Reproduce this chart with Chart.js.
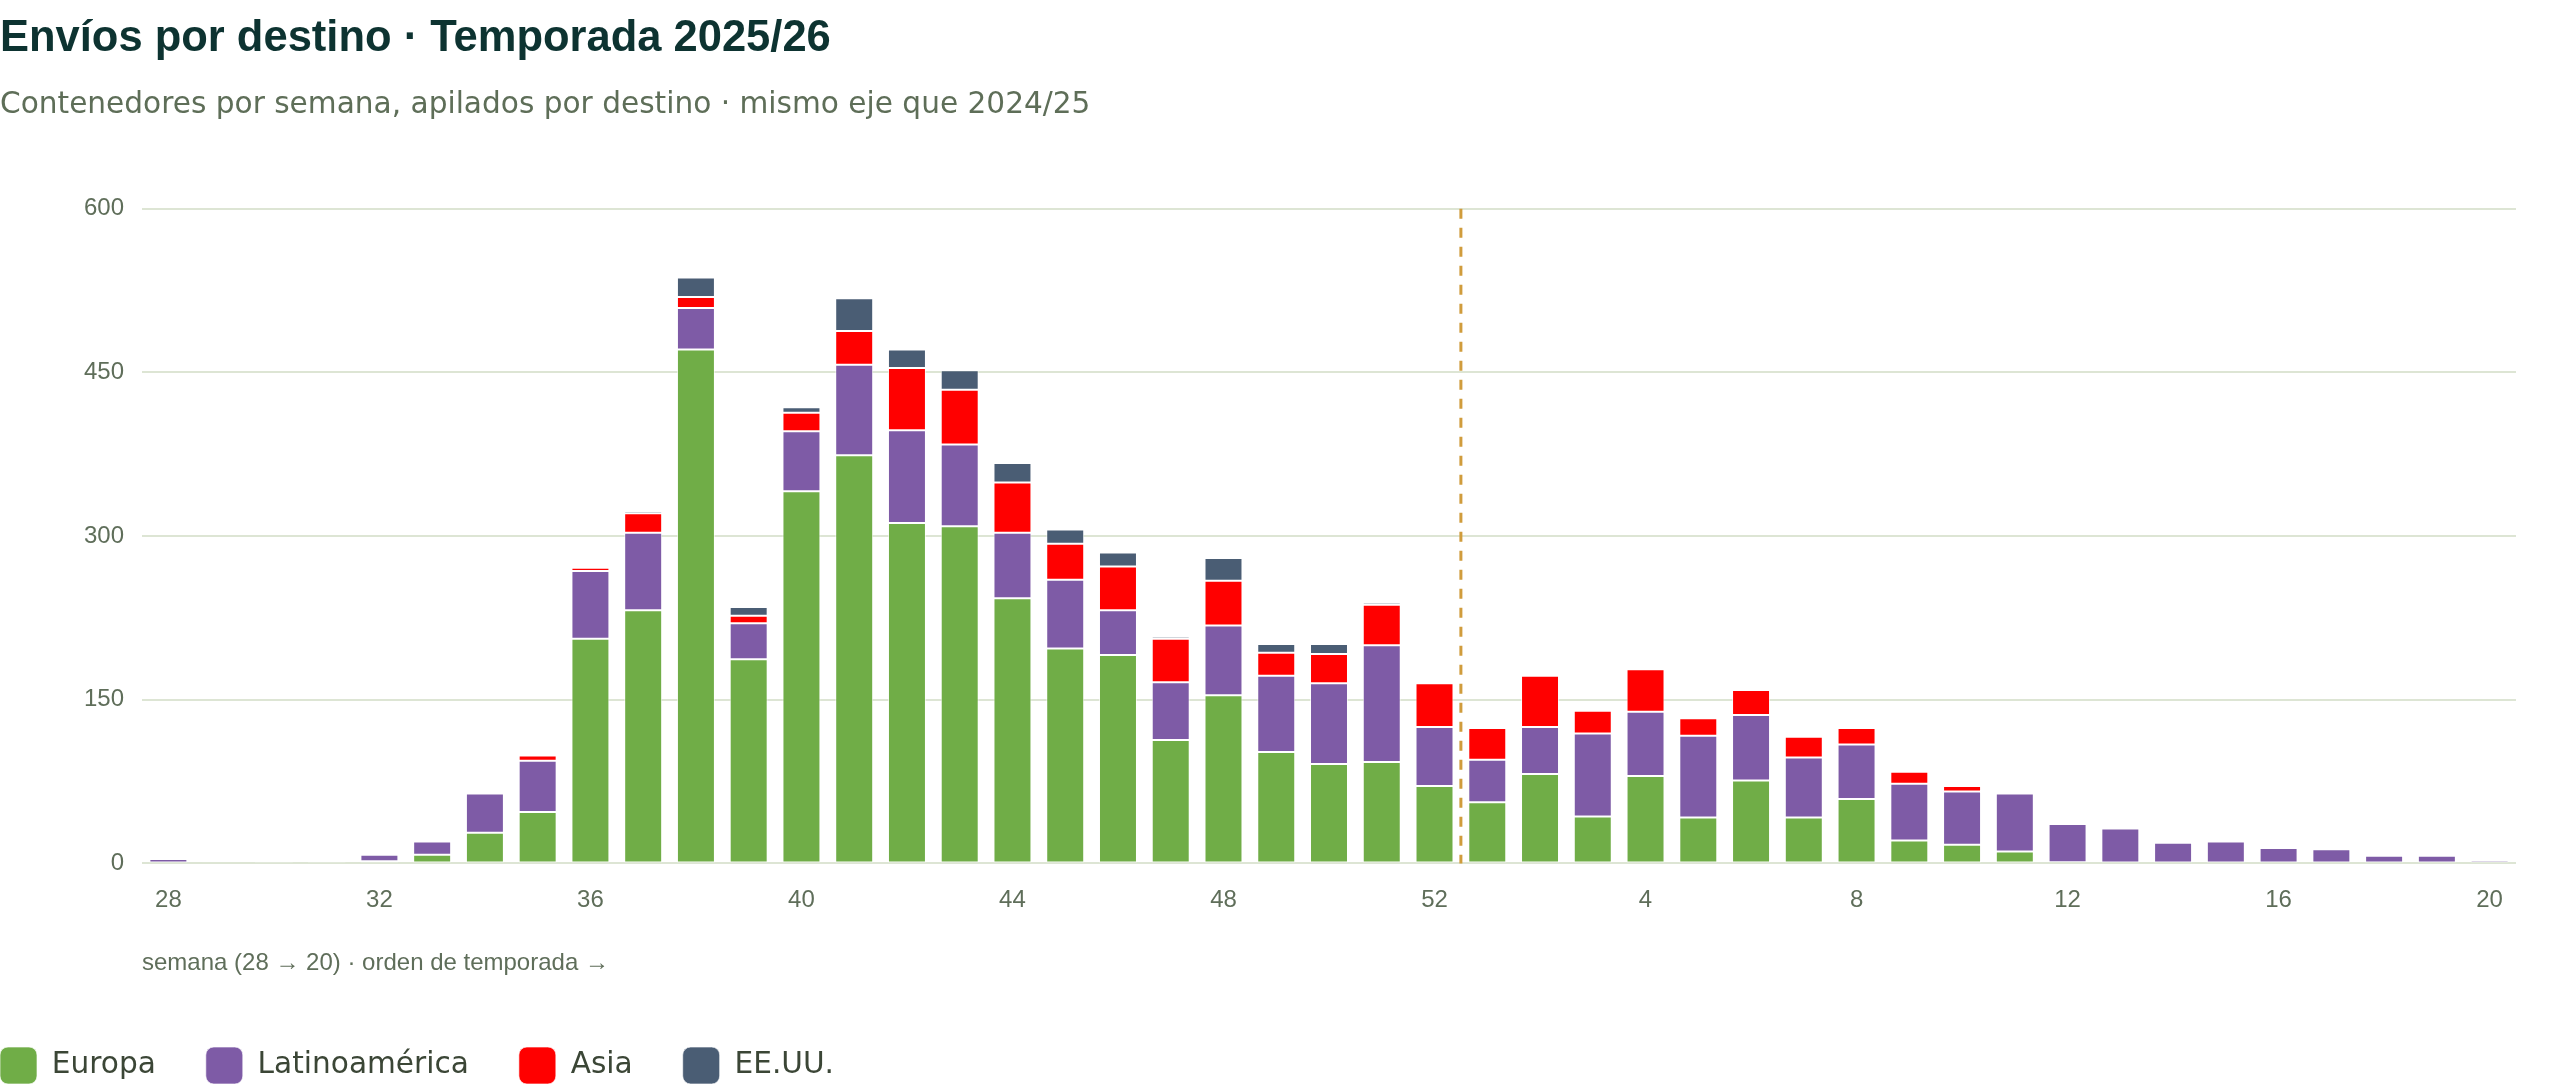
<!DOCTYPE html>
<html>
<head>
<meta charset="utf-8">
<script src="https://cdn.jsdelivr.net/npm/chart.js@4.4.1/dist/chart.umd.min.js"></script>
<style>
  body { margin: 0; background: #fff; }
  #wrap { width: 2560px; height: 1089px; position: relative; }
</style>
</head>
<body>
<div id="wrap"><canvas id="chart"></canvas></div>
<script>
// semanas de la temporada 2025/26 (28 -> 52, luego 1 -> 20)
var weeks = ['28','29','30','31','32','33','34','35','36','37','38','39','40','41','42','43','44','45','46','47','48','49','50','51','52',
             '1','2','3','4','5','6','7','8','9','10','11','12','13','14','15','16','17','18','19','20'];

var europa = [0,0,0,0,2,8,28,47,206,232,471,187,341,374,312,309,243,197,191,113,154,102,91,93,71,
              56,82,43,80,42,76,42,59,21,17,11,1,0,0,0,0,0,0,0,0];
var latam  = [4,1,2,2,6,12,36,47,62,71,38,33,55,83,85,75,60,63,41,53,64,70,74,107,54,
              39,43,76,59,75,60,55,50,52,49,53,35,32,19,20,14,13,7,7,3];
var asia   = [0,0,0,0,1,2,2,5,3,18,10,7,17,31,57,50,46,33,40,40,41,21,27,37,40,
              29,47,21,39,16,23,19,15,11,5,0,0,0,0,0,0,0,0,0,0];
var eeuu   = [0,0,0,0,0,0,0,0,0,2,18,8,5,30,17,18,18,13,13,2,21,8,9,2,0,
              2,0,0,0,0,0,0,0,0,0,0,0,0,0,0,0,0,0,0,0];

var seriesNames = ['Europa', 'Latinoamérica', 'Asia', 'EE.UU.'];
var seriesColors = ['#70ad47', '#7e5ba6', '#ff0000', '#4a5d74'];
var yTicks = [0, 150, 300, 450, 600];
var seasonBreak = ['52', '1']; // cambio de año

var tickColor = '#5f6e5a';
var gridColor = '#dde5d4';

// linea discontinua entre la semana 52 y la 1
var yearLine = {
  id: 'yearLine',
  afterDatasetsDraw: function(chart) {
    var x = chart.scales.x, y = chart.scales.y;
    var px = (x.getPixelForValue(weeks.indexOf(seasonBreak[0])) + x.getPixelForValue(weeks.indexOf(seasonBreak[1]))) / 2;
    var ctx = chart.ctx;
    ctx.save();
    ctx.strokeStyle = '#d09c3c';
    ctx.lineWidth = 3;
    ctx.setLineDash([10, 9]);
    ctx.beginPath();
    ctx.moveTo(px, y.getPixelForValue(yTicks[yTicks.length - 1]));
    ctx.lineTo(px, y.getPixelForValue(0));
    ctx.stroke();
    ctx.restore();
  }
};

// leyenda pegada al borde izquierdo
var legendShift = {
  id: 'legendShift',
  afterLayout: function(chart) {
    var lg = chart.legend;
    var p = lg.options.labels.padding;
    lg.left -= p;
    lg.right -= p;
  }
};

var values = [europa, latam, asia, eeuu];
var datasets = [];
for (var i = 0; i < seriesNames.length; i++) {
  datasets.push({
    label: seriesNames[i],
    data: values[i],
    backgroundColor: seriesColors[i],
    borderColor: 'rgba(255,255,255,0.65)',
    borderWidth: 1,
    borderSkipped: false,
    barPercentage: 0.72,
    categoryPercentage: 1
  });
}

Chart.defaults.font.family = "'Liberation Sans', Arial, sans-serif";

new Chart(document.getElementById('chart'), {
  type: 'bar',
  data: { labels: weeks, datasets: datasets },
  options: {
    responsive: true,
    maintainAspectRatio: false,
    animation: false,
    layout: { padding: { left: 0, right: 44, top: 0, bottom: 0 } },
    plugins: {
      title: {
        display: true,
        text: 'Envíos por destino · Temporada 2025/26',
        align: 'start',
        color: '#0d3331',
        font: { size: 43.5, weight: 'bold' },
        padding: { top: 13, bottom: 22 }
      },
      subtitle: {
        display: true,
        text: 'Contenedores por semana, apilados por destino · mismo eje que 2024/25',
        align: 'start',
        color: '#5e6e58',
        font: { family: "'DejaVu Sans', sans-serif", size: 29.6 },
        padding: { top: 0, bottom: 86 }
      },
      legend: {
        position: 'bottom',
        align: 'start',
        maxHeight: 92,
        labels: {
          boxWidth: 37,
          boxHeight: 37,
          useBorderRadius: true,
          borderRadius: 8,
          padding: 50,
          color: '#3b4636',
          font: { family: "'DejaVu Sans', sans-serif", size: 29.6 }
        }
      },
      tooltip: { enabled: false }
    },
    scales: {
      x: {
        stacked: true,
        grid: { display: false, drawTicks: false },
        border: { display: false },
        ticks: {
          color: tickColor,
          font: { size: 24 },
          padding: 23,
          maxRotation: 0,
          autoSkip: false,
          callback: function(v, i) { return i % 4 === 0 ? weeks[i] : ''; }
        },
        title: {
          display: true,
          text: 'semana (28 → 20) · orden de temporada →',
          align: 'start',
          color: tickColor,
          font: { size: 24 },
          padding: { top: 11, bottom: 19 }
        }
      },
      y: {
        stacked: true,
        min: 0,
        max: 600,
        afterFit: function(s) { s.width = 142; },
        afterBuildTicks: function(s) { s.ticks = yTicks.map(function(v) { return { value: v }; }); },
        grid: { color: gridColor, lineWidth: 2, drawTicks: false },
        border: { display: false },
        ticks: { color: tickColor, font: { size: 24 }, padding: 18 }
      }
    }
  },
  plugins: [yearLine, legendShift]
});
</script>
</body>
</html>
